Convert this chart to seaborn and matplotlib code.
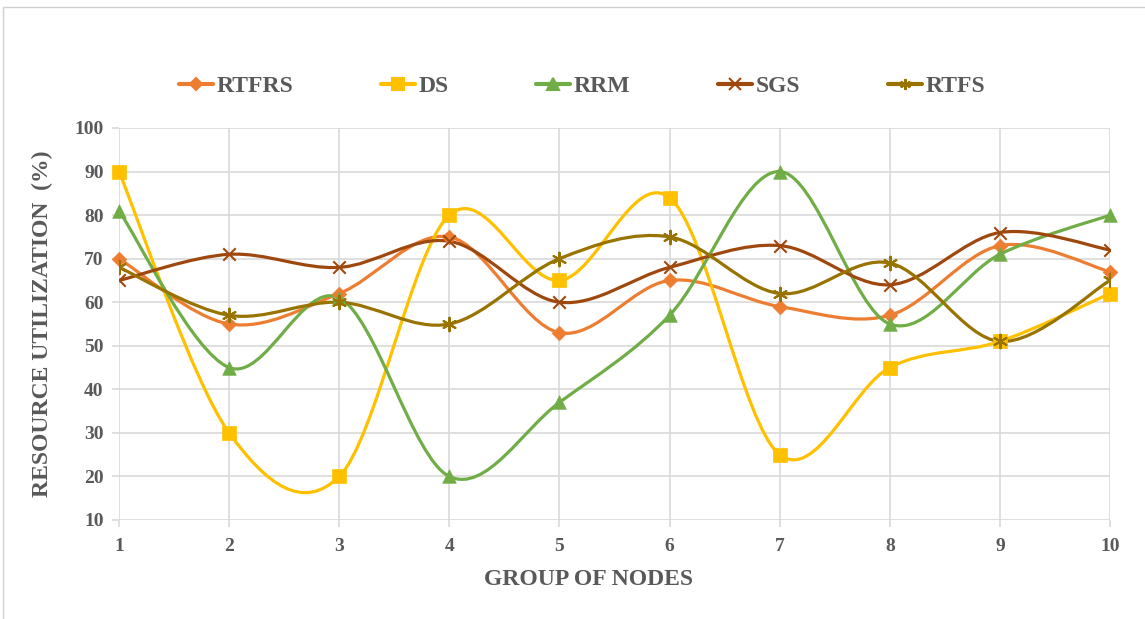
import numpy as np
import pandas as pd
import seaborn as sns
import matplotlib
matplotlib.use('Agg')
import matplotlib.pyplot as plt
from matplotlib.path import Path
from matplotlib.patches import PathPatch, Rectangle
from matplotlib.lines import Line2D

# data
groups = [1, 2, 3, 4, 5, 6, 7, 8, 9, 10]
rtfrs = [70, 55, 62, 75, 53, 65, 59, 57, 73, 67]
ds = [90, 30, 20, 80, 65, 84, 25, 45, 51, 62]
rrm = [81, 45, 61, 20, 37, 57, 90, 55, 71, 80]
sgs = [65, 71, 68, 74, 60, 68, 73, 64, 76, 72]
rtfs = [68, 57, 60, 55, 70, 75, 62, 69, 51, 65]

series = ['RTFRS', 'DS', 'RRM', 'SGS', 'RTFS']
values = [rtfrs, ds, rrm, sgs, rtfs]
colors = ['#ED7D31', '#FFC000', '#70AD47', '#9E480E', '#997300']
markers = ['D', 's', '^', 'x', (6, 2, 0)]
msizes = [55, 110, 95, 80, 95]

TXT = '#595959'
GRID = '#D9D9D9'
FONT = 'Liberation Serif'


# Excel style smoothed line: cubic bezier through the points
def smooth_path(x, y):
    pts = np.column_stack([x, y]).astype(float)
    n = len(pts)
    verts = [pts[0]]
    codes = [Path.MOVETO]
    for i in range(n - 1):
        p0 = pts[max(i - 1, 0)]
        p1 = pts[i]
        p2 = pts[i + 1]
        p3 = pts[min(i + 2, n - 1)]
        c1 = p1 + (p2 - p0) / 6.0
        c2 = p2 - (p3 - p1) / 6.0
        verts += [c1, c2, p2]
        codes += [Path.CURVE4] * 3
    return Path(verts, codes)


sns.set_theme(style='white')
plt.rcParams['font.family'] = [FONT, 'DejaVu Serif']
plt.rcParams['font.weight'] = 'bold'

fig = plt.figure(figsize=(11.45, 6.19), dpi=100)
ax = fig.add_axes([119 / 1145, 1 - 520 / 619, (1110 - 119) / 1145, (520 - 128) / 619])

# outer chart frame
fig.patches.append(Rectangle((3 / 1145, -0.05), 1.2, 1 - 7 / 619 + 0.05,
                             transform=fig.transFigure, fill=False,
                             edgecolor='#D0D0D0', lw=1.0, zorder=0))

for name, vals, col, mk, ms in zip(series, values, colors, markers, msizes):
    ax.add_patch(PathPatch(smooth_path(groups, vals), fill=False,
                           edgecolor=col, lw=2.3, zorder=3,
                           capstyle='round', joinstyle='round'))
    df = pd.DataFrame({'group': groups, 'value': vals})
    if mk == 'x' or isinstance(mk, tuple):
        sns.scatterplot(data=df, x='group', y='value', ax=ax, marker=mk,
                        s=ms, color=col, linewidth=1.5, zorder=4, legend=False)
    else:
        sns.scatterplot(data=df, x='group', y='value', ax=ax, marker=mk,
                        s=ms, color=col, edgecolor=col, linewidth=0.5,
                        zorder=4, legend=False, clip_on=False)

ax.set_xlim(1, 10)
ax.set_ylim(10, 100)
ax.set_xticks(groups)
ax.set_yticks(range(10, 101, 10))
ax.grid(True, color=GRID, lw=1.2)
ax.set_axisbelow(True)
for s in ax.spines.values():
    s.set_visible(False)
ax.tick_params(axis='both', which='both', length=5, width=1.2, color=GRID,
               labelsize=14, labelcolor=TXT, pad=6)
ax.tick_params(axis='x', direction='out', bottom=True, pad=8)
ax.tick_params(axis='y', direction='out', left=True)
for lb in ax.get_xticklabels() + ax.get_yticklabels():
    lb.set_fontweight('bold')

ax.set_xlabel('GROUP OF NODES', fontsize=17, fontweight='bold', color=TXT)
ax.xaxis.set_label_coords((588 - 119) / 991, -(569 - 520) / 392)
ax.set_ylabel('RESOURCE UTILIZATION  (%)', fontsize=17, fontweight='bold', color=TXT)
ax.yaxis.set_label_coords(-(119 - 53) / 991, 0.5)

handles = [Line2D([0], [0], color=c, lw=3, marker=m,
                  markersize=8 if m != 'D' else 6, markeredgewidth=1.5,
                  markeredgecolor=c, markerfacecolor=c)
           for c, m in zip(colors, markers)]
leg = fig.legend(handles, series, loc='center', bbox_to_anchor=(582 / 1145, 1 - 86 / 619),
                 ncol=5, frameon=False, handlelength=1.45, handletextpad=0.15,
                 columnspacing=3.7, prop={'family': FONT, 'weight': 'bold', 'size': 17})
for t in leg.get_texts():
    t.set_color(TXT)

fig.savefig('out.png', dpi=100)
